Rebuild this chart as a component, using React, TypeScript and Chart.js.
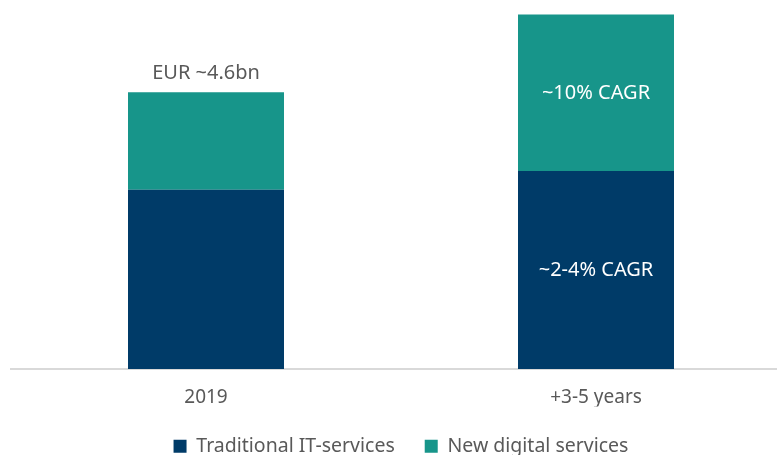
import React, { useEffect, useRef } from "react";
import { Chart, registerables } from "chart.js";

Chart.register(...registerables);

const categories = ["2019", "+3-5 years"];
const seriesNames = ["Traditional IT-services", "New digital services"];
const traditionalValues = [2.98, 3.29];
const digitalValues = [1.62, 2.6];
const totalLabels = ["EUR ~4.6bn", ""];
const traditionalLabels = ["", "~2-4% CAGR"];
const digitalLabels = ["", "~10% CAGR"];

const NAVY = "#003B68";
const TEAL = "#17958A";
const TEXT_COLOR = "#595959";
const FONT = "'Noto Sans', 'Liberation Sans', Arial, sans-serif";
const TICK_SIZE = 19;
const LEGEND_SIZE = 19.5;
const LABEL_SIZE = 20;

const barLabels = {
  id: "barLabels",
  afterDatasetsDraw(chart: any) {
    const ctx = chart.ctx;
    ctx.save();
    ctx.font = `${LABEL_SIZE}px ${FONT}`;
    ctx.textAlign = "center";
    ctx.textBaseline = "middle";
    const m0 = chart.getDatasetMeta(0);
    const m1 = chart.getDatasetMeta(1);
    m0.data.forEach((el: any, i: number) => {
      const p = el.getProps(["x", "y", "base"], true);
      if (traditionalLabels[i]) {
        ctx.fillStyle = "#ffffff";
        ctx.fillText(traditionalLabels[i], p.x, (p.y + p.base) / 2);
      }
    });
    m1.data.forEach((el: any, i: number) => {
      const p = el.getProps(["x", "y", "base"], true);
      if (digitalLabels[i]) {
        ctx.fillStyle = "#ffffff";
        ctx.fillText(digitalLabels[i], p.x, (p.y + p.base) / 2);
      }
      if (totalLabels[i]) {
        ctx.fillStyle = TEXT_COLOR;
        ctx.fillText(totalLabels[i], p.x, p.y - 19);
      }
    });
    ctx.restore();
  },
};

export default function App() {
  const ref = useRef<HTMLCanvasElement | null>(null);
  useEffect(() => {
    if (!ref.current) return;
    const chart = new Chart(ref.current, {
      type: "bar",
      data: {
        labels: categories,
        datasets: [
          {
            label: seriesNames[0],
            data: traditionalValues,
            backgroundColor: NAVY,
            borderWidth: 0,
          },
          {
            label: seriesNames[1],
            data: digitalValues,
            backgroundColor: TEAL,
            borderWidth: 0,
          },
        ],
      },
      options: {
        responsive: false,
        animation: false,
        devicePixelRatio: 1,
        categoryPercentage: 1,
        barPercentage: 0.4,
        layout: { padding: { left: 11, right: 9, top: 8, bottom: 0 } },
        scales: {
          x: {
            stacked: true,
            offset: true,
            grid: {
              display: true,
              drawOnChartArea: false,
              drawTicks: true,
              tickLength: 19.5,
              color: "rgba(0,0,0,0)",
              tickColor: "rgba(0,0,0,0)",
            },
            border: { display: true, color: "#d9d9d9", width: 2 },
            ticks: {
              padding: 0,
              color: TEXT_COLOR,
              maxRotation: 0,
              font: { family: FONT, size: TICK_SIZE, lineHeight: "18px" },
            },
          },
          y: {
            stacked: true,
            display: false,
            min: 0,
            max: 6,
          },
        },
        plugins: {
          tooltip: { enabled: false },
          legend: {
            display: true,
            position: "bottom",
            labels: {
              boxWidth: 13,
              boxHeight: 13,
              padding: 30,
              color: TEXT_COLOR,
              font: { family: FONT, size: LEGEND_SIZE },
            },
          },
        },
      },
      plugins: [barLabels],
    });
    return () => chart.destroy();
  }, []);

  return (
    <div
      style={{
        position: "absolute",
        left: 0,
        top: 0,
        width: 777,
        height: 455,
        overflow: "hidden",
        background: "#ffffff",
      }}
    >
      <canvas ref={ref} width={800} height={466} style={{ display: "block" }} />
    </div>
  );
}
